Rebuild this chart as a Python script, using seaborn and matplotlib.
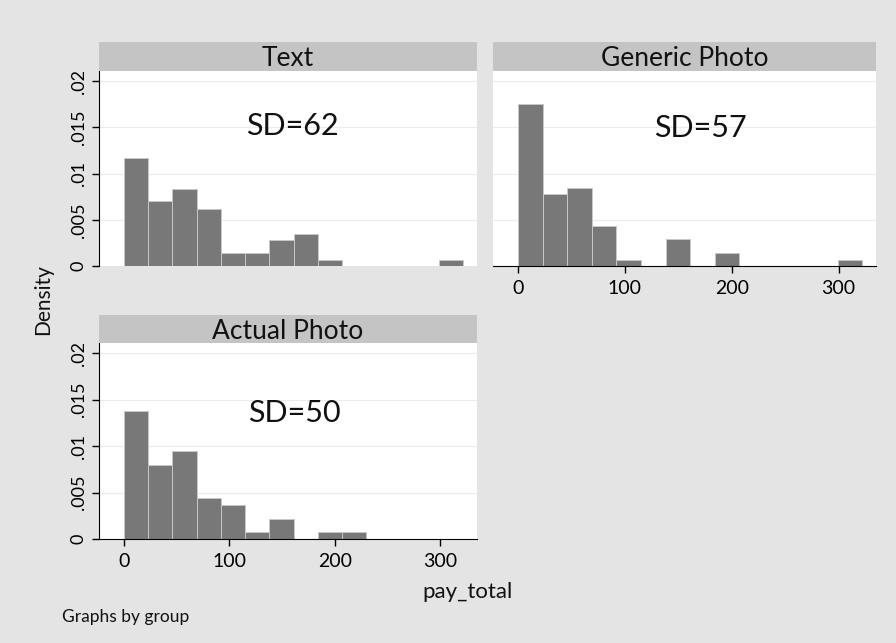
import matplotlib.pyplot as plt
import numpy as np
import seaborn as sns

sns.set_style('white')
plt.rcParams['font.family'] = ['Lato', 'DejaVu Sans']
plt.rcParams['text.color'] = '#111111'
plt.rcParams['xtick.color'] = 'black'
plt.rcParams['ytick.color'] = 'black'

# bins shared by all panels (pay_total, width 23 starting at 0)
bin_edges = [0, 23, 46, 69, 92, 115, 138, 161, 184, 207, 230, 253, 276, 299, 322]

# density per bin
text_dens = [0.0117, 0.0070, 0.0083, 0.0062, 0.0014, 0.0014, 0.0028,
             0.0035, 0.0007, 0, 0, 0, 0, 0.0007]
generic_dens = [0.0175, 0.0078, 0.0084, 0.0043, 0.0007, 0, 0.0029,
                0, 0.0014, 0, 0, 0, 0, 0.0007]
actual_dens = [0.0138, 0.0080, 0.0095, 0.0044, 0.0037, 0.0008, 0.0022,
               0, 0.0008, 0.0008, 0, 0, 0, 0]

groups = ['Text', 'Generic Photo', 'Actual Photo']
sd_labels = ['SD=62', 'SD=57', 'SD=50']
sd_pos = [(160, 0.0151), (171, 0.0149), (162, 0.0136)]

y_ticks = [0, 0.005, 0.01, 0.015, 0.02]
y_ticklabels = ['0', '.005', '.01', '.015', '.02']
x_ticks = [0, 100, 200, 300]

bg = '#e4e4e4'
strip_col = '#c4c4c4'
bar_col = '#787878'

W, H = 896, 643
fig = plt.figure(figsize=(W / 100, H / 100), dpi=100, facecolor=bg)


def px_axes(left, top, right, bottom, **kw):
    return fig.add_axes([left / W, 1 - bottom / H, (right - left) / W, (bottom - top) / H], **kw)


# (plot box, strip box, show y axis, show x axis)
layout = [
    ((99, 71, 477, 266), (99, 42, 477, 71), True, False),
    ((493, 71, 876, 266), (493, 42, 876, 71), False, True),
    ((99, 343, 477, 539), (99, 315, 477, 343), True, True),
]
dens_all = [text_dens, generic_dens, actual_dens]
centers = (np.array(bin_edges[:-1]) + np.array(bin_edges[1:])) / 2

for i, (box, sbox, show_y, show_x) in enumerate(layout):
    ax = px_axes(*box)
    ax.set_facecolor('white')
    sns.histplot(x=centers, weights=dens_all[i], bins=bin_edges, ax=ax,
                 color=bar_col, alpha=1, edgecolor='#c8c8c8', linewidth=0.7)
    for p in ax.patches:
        if p.get_height() == 0:
            p.set_visible(False)
    ax.set_xlim(-23.5, 335)
    ax.set_ylim(0, 0.0211)
    for y in y_ticks[1:]:
        ax.axhline(y, color='#ececec', lw=0.8, zorder=0)
    ax.set_xlabel('')
    ax.set_ylabel('')
    for s in ['top', 'right']:
        ax.spines[s].set_visible(False)
    ax.spines['left'].set_visible(show_y)
    ax.spines['bottom'].set_visible(show_x)
    ax.spines['left'].set_color('black')
    ax.spines['bottom'].set_color('black')
    if show_y:
        ax.set_yticks(y_ticks)
        ax.set_yticklabels(y_ticklabels, rotation=90, va='center', fontsize=13)
        ax.tick_params(axis='y', left=True, length=5, width=1, pad=4)
    else:
        ax.set_yticks([])
    if show_x:
        ax.set_xticks(x_ticks)
        ax.set_xticklabels([str(t) for t in x_ticks], fontsize=14)
        ax.tick_params(axis='x', bottom=True, length=5, width=1, pad=5)
    else:
        ax.set_xticks([])
    ax.text(sd_pos[i][0], sd_pos[i][1], sd_labels[i], fontsize=22,
            ha='center', va='center')

    sax = px_axes(*sbox)
    sax.set_facecolor(strip_col)
    sax.set_xticks([])
    sax.set_yticks([])
    for s in sax.spines.values():
        s.set_visible(False)
    sax.text(0.5, 0.42, groups[i], transform=sax.transAxes, fontsize=19,
             ha='center', va='center')

fig.text(43 / W, 1 - 300 / H, 'Density', rotation=90, fontsize=15,
         ha='center', va='center')
fig.text(467 / W, 1 - 592 / H, 'pay_total', fontsize=16,
         ha='center', va='center')
fig.text(62 / W, 1 - 617 / H, 'Graphs by group', fontsize=12.5,
         ha='left', va='center')

plt.savefig('out.png', dpi=100, facecolor=bg)
